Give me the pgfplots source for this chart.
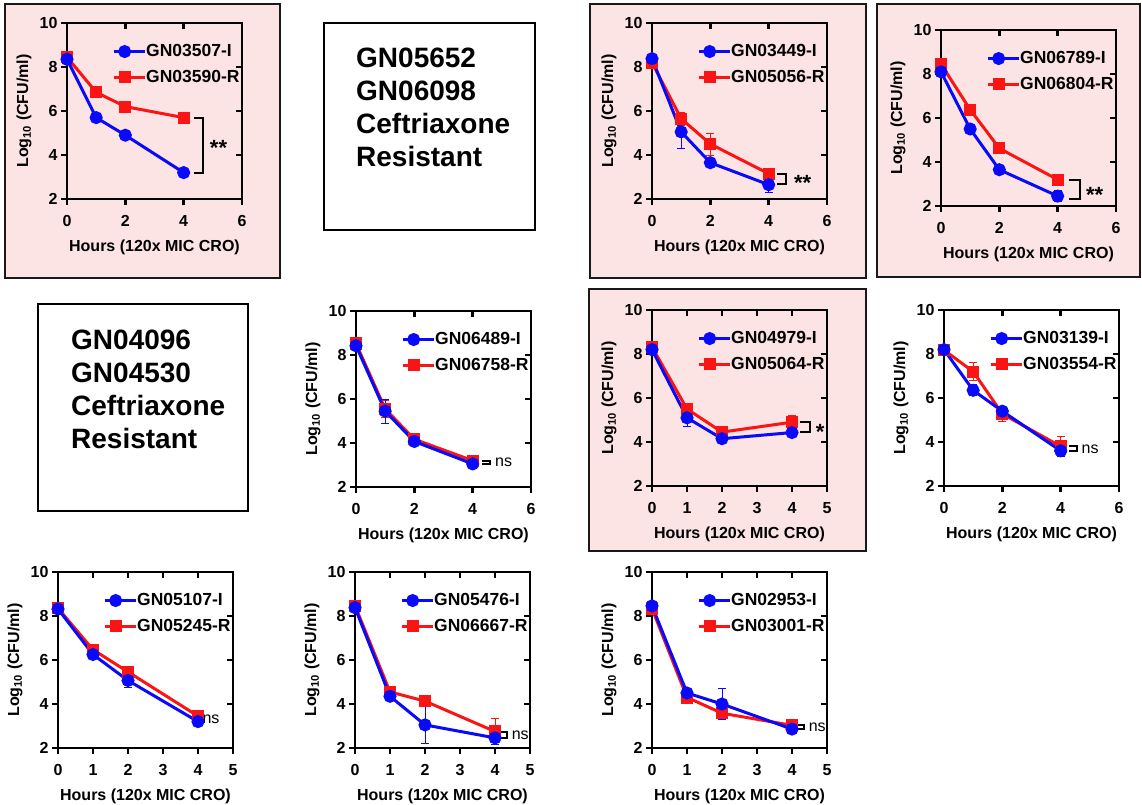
\documentclass[border=0pt]{standalone}
\usepackage{fontspec}
\setmainfont{Liberation Sans}
\usepackage{pgfplots}
\pgfplotsset{compat=1.18}
\definecolor{bgpink}{RGB}{252,228,228}
\definecolor{pblue}{RGB}{10,10,250}
\definecolor{pred}{RGB}{250,20,20}
\newcommand\fs{\fontsize{16}{19}\selectfont\bfseries}
\newcommand\fl{\fontsize{17.5}{19}\selectfont\bfseries}
\newcommand\fbig{\fontsize{28}{33}\selectfont\bfseries}
% mirrored inner ticks on right and top edges
\newcommand\rticks[1]{\draw[line width=2.5pt] (axis cs:#1,4) -- ++(-6pt,0pt) (axis cs:#1,6) -- ++(-6pt,0pt) (axis cs:#1,8) -- ++(-6pt,0pt);}
\newcommand\tsix{\rticks{6}\draw[line width=2.5pt] (axis cs:2,10) -- ++(0pt,-6pt) (axis cs:4,10) -- ++(0pt,-6pt);}
\newcommand\tfive{\rticks{5}\draw[line width=2.5pt] (axis cs:1,10) -- ++(0pt,-6pt) (axis cs:2,10) -- ++(0pt,-6pt) (axis cs:3,10) -- ++(0pt,-6pt) (axis cs:4,10) -- ++(0pt,-6pt);}
\newcommand\bracket[4]{\draw[line width=2pt] (axis cs:#1,#3) -- (axis cs:#2,#3) -- (axis cs:#2,#4) -- (axis cs:#1,#4);}
\pgfplotsset{
  panel/.style={
    scale only axis, width=175pt, height=176pt, anchor=south west,
    xmin=0, ymin=2, ymax=10,
    ytick={2,4,6,8,10}, yticklabels={2,4,6,8,10},
    axis line style={line width=2.5pt, line cap=rect},
    every tick/.style={line width=2.5pt, black},
    major tick length=6pt,
    tick align=outside, tick pos=left,
    clip=false,
    tick label style={font=\fs},
    xticklabel style={yshift=-7pt},
    label style={font=\fs},
    xlabel={Hours (120x MIC CRO)},
    ylabel={Log\textsubscript{10} (CFU/ml)},
    xlabel style={at={(axis description cs:0.5,0)}, anchor=base, yshift=-52pt},
    ylabel style={at={(axis description cs:-0.245,0.5)}, anchor=center},
    legend style={at={(0.257,0.878)}, anchor=north west, draw=none, fill=none,
      font=\fl, row sep=12pt, column sep=0pt, inner sep=0pt,
      nodes={inner sep=0pt, font=\fl}},
    legend cell align=left,
    reverse legend,
    legend image code/.code={\draw[mark repeat=2,mark phase=2,##1] plot coordinates {(0pt,0pt) (11pt,0pt) (22pt,0pt)};\path (22pt,0pt) -- (31pt,0pt);},
  },
  six/.style={panel, xmax=6, xtick={0,2,4,6}, xticklabels={0,2,4,6}},
  five/.style={panel, xmax=5, xtick={0,1,2,3,4,5}, xticklabels={0,1,2,3,4,5}},
  iso/.style={color=pblue, line width=3pt, mark=*, mark size=5pt, mark options={solid},
    error bars/.cd, y dir=both, y explicit, error bar style={line width=1pt},
    error mark options={rotate=90, mark size=4pt, line width=1pt}},
  res/.style={color=pred, line width=3pt, mark=square*, mark size=4.6pt, mark options={solid},
    error bars/.cd, y dir=both, y explicit, error bar style={line width=1pt},
    error mark options={rotate=90, mark size=4pt, line width=1pt}},
}
\begin{document}
\begin{tikzpicture}
\useasboundingbox (0,0) rectangle (1142pt,-805pt);
% pink panels
\filldraw[fill=bgpink, draw=black!90, line width=2.5pt] (5pt,-4pt) rectangle (280pt,-278pt);
\filldraw[fill=bgpink, draw=black!90, line width=2.5pt] (590pt,-4pt) rectangle (866pt,-278pt);
\filldraw[fill=bgpink, draw=black!90, line width=2.5pt] (877pt,-4pt) rectangle (1140pt,-277pt);
\filldraw[fill=bgpink, draw=black!90, line width=2.5pt] (589pt,-289pt) rectangle (866pt,-551pt);
% text boxes
\draw[line width=2.5pt] (324pt,-23pt) rectangle (535pt,-230pt);
\node[anchor=base west, font=\fbig, inner sep=0pt] at (356pt,-68pt) {GN05652};
\node[anchor=base west, font=\fbig, inner sep=0pt] at (356pt,-101pt) {GN06098};
\node[anchor=base west, font=\fbig, inner sep=0pt] at (356pt,-134pt) {Ceftriaxone};
\node[anchor=base west, font=\fbig, inner sep=0pt] at (356pt,-167pt) {Resistant};
\draw[line width=2.5pt] (38pt,-304pt) rectangle (248pt,-511pt);
\node[anchor=base west, font=\fbig, inner sep=0pt] at (71pt,-349pt) {GN04096};
\node[anchor=base west, font=\fbig, inner sep=0pt] at (71pt,-382pt) {GN04530};
\node[anchor=base west, font=\fbig, inner sep=0pt] at (71pt,-415pt) {Ceftriaxone};
\node[anchor=base west, font=\fbig, inner sep=0pt] at (71pt,-448pt) {Resistant};

% A
\begin{axis}[six, at={(67pt,-199pt)}]
\addplot[res] table[y error=e] {
x y e
0 8.45 0.05
1 6.85 0.08
2 6.20 0.08
4 5.70 0.08
};
\addlegendentry{\fl GN03590-R}
\addplot[iso] table[y error=e] {
x y e
0 8.35 0.05
1 5.70 0.08
2 4.90 0.15
4 3.20 0.10
};
\addlegendentry{\fl GN03507-I}
\tsix
\bracket{4.35}{4.65}{5.7}{3.2}
\node[font=\fontsize{22}{22}\selectfont\bfseries, anchor=west] at (axis cs:4.78,4.3) {**};
\end{axis}

% B
\begin{axis}[six, at={(652pt,-199pt)}]
\addplot[res] table[y error=e] {
x y e
0 8.20 0.05
1 5.65 0.30
2 4.50 0.50
4 3.15 0.10
};
\addlegendentry{\fl GN05056-R}
\addplot[iso] table[y error=e] {
x y e
0 8.38 0.05
1 5.05 0.75
2 3.65 0.08
4 2.65 0.35
};
\addlegendentry{\fl GN03449-I}
\tsix
\bracket{4.3}{4.6}{3.15}{2.7}
\node[font=\fontsize{22}{22}\selectfont\bfseries, anchor=west] at (axis cs:4.75,2.75) {**};
\end{axis}

% C
\begin{axis}[six, at={(941pt,-206pt)}]
\addplot[res] table[y error=e] {
x y e
0 8.45 0.05
1 6.38 0.20
2 4.62 0.08
4 3.20 0.08
};
\addlegendentry{\fl GN06804-R}
\addplot[iso] table[y error=e] {
x y e
0 8.10 0.05
1 5.50 0.08
2 3.65 0.08
4 2.45 0.25
};
\addlegendentry{\fl GN06789-I}
\tsix
\bracket{4.38}{4.75}{3.18}{2.3}
\node[font=\fontsize{22}{22}\selectfont\bfseries, anchor=west] at (axis cs:4.85,2.5) {**};
\end{axis}

% D
\begin{axis}[six, at={(356pt,-487pt)}]
\addplot[res] table[y error=e] {
x y e
0 8.52 0.05
1 5.55 0.40
2 4.17 0.05
4 3.20 0.05
};
\addlegendentry{\fl GN06758-R}
\addplot[iso] table[y error=e] {
x y e
0 8.42 0.05
1 5.45 0.55
2 4.07 0.08
4 3.05 0.05
};
\addlegendentry{\fl GN06489-I}
\tsix
\bracket{4.32}{4.6}{3.2}{3.05}
\node[font=\fontsize{16}{16}\selectfont, anchor=west] at (axis cs:4.65,3.12) {ns};
\end{axis}

% E
\begin{axis}[five, at={(652pt,-486pt)}]
\addplot[res] table[y error=e] {
x y e
0 8.32 0.05
1 5.50 0.20
2 4.45 0.08
4 4.90 0.30
};
\addlegendentry{\fl GN05064-R}
\addplot[iso] table[y error=e] {
x y e
0 8.20 0.05
1 5.10 0.40
2 4.15 0.15
4 4.43 0.20
};
\addlegendentry{\fl GN04979-I}
\tfive
\bracket{4.24}{4.5}{4.9}{4.45}
\node[font=\fontsize{22}{22}\selectfont\bfseries, anchor=west] at (axis cs:4.58,4.45) {*};
\end{axis}

% F
\begin{axis}[six, at={(944pt,-486pt)}]
\addplot[res] table[y error=e] {
x y e
0 8.18 0.05
1 7.20 0.42
2 5.28 0.33
4 3.80 0.45
};
\addlegendentry{\fl GN03554-R}
\addplot[iso] table[y error=e] {
x y e
0 8.20 0.05
1 6.35 0.25
2 5.40 0.20
4 3.60 0.25
};
\addlegendentry{\fl GN03139-I}
\tsix
\bracket{4.28}{4.56}{3.8}{3.6}
\node[font=\fontsize{16}{16}\selectfont, anchor=west] at (axis cs:4.6,3.68) {ns};
\end{axis}

% G
\begin{axis}[five, at={(58pt,-748pt)}]
\addplot[res] table[y error=e] {
x y e
0 8.35 0.05
1 6.47 0.08
2 5.46 0.08
4 3.45 0.05
};
\addlegendentry{\fl GN05245-R}
\addplot[iso] table[y error=e] {
x y e
0 8.32 0.05
1 6.25 0.15
2 5.07 0.30
4 3.20 0.05
};
\addlegendentry{\fl GN05107-I}
\tfive
\bracket{3.95}{4.08}{3.45}{3.2}
\node[font=\fontsize{16}{16}\selectfont, anchor=west] at (axis cs:4.03,3.3) {ns};
\end{axis}

% H
\begin{axis}[five, at={(355pt,-748pt)}]
\addplot[res] table[y error=e] {
x y e
0 8.47 0.05
1 4.55 0.08
2 4.13 0.15
4 2.75 0.60
};
\addlegendentry{\fl GN06667-R}
\addplot[iso] table[y error=e] {
x y e
0 8.38 0.05
1 4.35 0.08
2 3.05 0.85
4 2.46 0.30
};
\addlegendentry{\fl GN05476-I}
\tfive
\bracket{4.0}{4.33}{2.75}{2.45}
\node[font=\fontsize{16}{16}\selectfont, anchor=west] at (axis cs:4.38,2.6) {ns};
\end{axis}

% I
\begin{axis}[five, at={(652pt,-748pt)}]
\addplot[res] table[y error=e] {
x y e
0 8.34 0.05
1 4.30 0.08
2 3.58 0.25
4 3.03 0.10
};
\addlegendentry{\fl GN03001-R}
\addplot[iso] table[y error=e] {
x y e
0 8.46 0.05
1 4.50 0.10
2 4.00 0.70
4 2.86 0.15
};
\addlegendentry{\fl GN02953-I}
\tfive
\bracket{4.17}{4.34}{3.03}{2.86}
\node[font=\fontsize{16}{16}\selectfont, anchor=west] at (axis cs:4.38,2.95) {ns};
\end{axis}
\end{tikzpicture}
\end{document}
